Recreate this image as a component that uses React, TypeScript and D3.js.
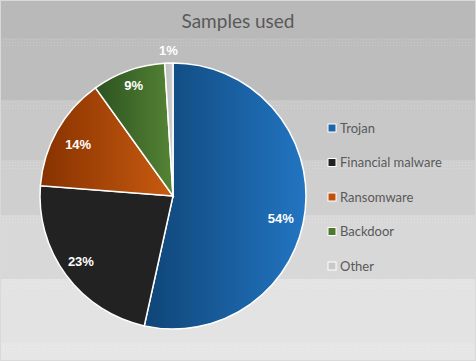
import React from "react";
import * as d3 from "d3";

const categories = ["Trojan", "Financial malware", "Ransomware", "Backdoor", "Other"];
const values = [54, 23, 14, 9, 1];
const labels = ["54%", "23%", "14%", "9%", "1%"];
const gradStops: [string, string][] = [
  ["#0f4577", "#2275c2"],
  ["#222222", "#222222"],
  ["#873200", "#c85b10"],
  ["#2c5220", "#558435"],
  ["#bdbdbd", "#cfcfcf"],
];
const legendColors = ["#1f65a8", "#222222", "#c0500a", "#4b7a2c", "#c8c8c8"];
const bandEdges = [0, 38, 100, 160, 215, 279, 343, 361];
const bandColors = ["#b9b9b9", "#bdbdbd", "#c8c8c8", "#cfcfcf", "#d8d8d8", "#e3e3e3", "#e6e6e6"];

export default function App() {
  const W = 476, H = 361;
  const cx = 173, cy = 196, R = 133;
  const pie = d3.pie<number>().sort(null).value((d) => d)(values);
  const arc = d3.arc<d3.PieArcDatum<number>>().innerRadius(0).outerRadius(R);
  const legendY = d3.scalePoint<string>().domain(categories).range([128, 266]);
  // label placement: radius and angular nudge (radians) per slice, like Excel's best fit
  const labelR = [110, 113, 108, 117, 146];
  const labelShift = [0.095, 0.02, -0.015, 0, 0];

  return (
    <svg width={W} height={H} style={{ display: "block" }}>
      <style>{`body{margin:0}`}</style>
      <defs>
        {gradStops.map((g, i) => (
          <linearGradient id={`g${i}`} key={i} x1="0" y1="0" x2="1" y2="0">
            <stop offset="0" stopColor={g[0]} />
            <stop offset="1" stopColor={g[1]} />
          </linearGradient>
        ))}
        <pattern id="dots" width="3" height="3" patternUnits="userSpaceOnUse">
          <rect x={0} y={0} width={1} height={1} fill="#ffffff" fillOpacity={0.2} />
        </pattern>
      </defs>
      {bandColors.map((c, i) => (
        <rect key={i} x={0} y={bandEdges[i]} width={W} height={bandEdges[i + 1] - bandEdges[i]} fill={c} />
      ))}
      {bandEdges.slice(1, -1).map((e, i) => (
        <rect key={`d${i}`} x={2} y={e} width={W - 4} height={10} fill="url(#dots)" />
      ))}
      <rect x={0.5} y={0.5} width={W - 1} height={H - 1} fill="none" stroke="#d9d9d9" />
      <text x={238} y={20} textAnchor="middle" dominantBaseline="central" fontFamily="Lato, 'Open Sans', sans-serif" fontSize={19} fill="#595959">
        Samples used
      </text>
      <g transform={`translate(${cx},${cy})`}>
        {pie.map((p, i) => (
          <path key={i} d={arc(p) || ""} fill={`url(#g${i})`} stroke="#ffffff" strokeWidth={1.5} />
        ))}
        {pie.map((p, i) => {
          const a = (p.startAngle + p.endAngle) / 2 + labelShift[i];
          const x = labelR[i] * Math.sin(a);
          const y = -labelR[i] * Math.cos(a);
          return (
            <text key={i} x={x} y={y} dy="0.35em" textAnchor="middle" fontFamily="'Liberation Sans', Arial, sans-serif" fontWeight="bold" fontSize={13} fill="#ffffff">
              {labels[i]}
            </text>
          );
        })}
      </g>
      {categories.map((c, i) => (
        <g key={c} transform={`translate(328,${legendY(c)})`}>
          <rect x={0} y={-4} width={8} height={8} fill={legendColors[i]} stroke="#ffffff" strokeWidth={1} />
          <text x={12} y={0} dy="0.35em" fontFamily="Lato, 'Open Sans', sans-serif" fontSize={13} fill="#595959">
            {c}
          </text>
        </g>
      ))}
    </svg>
  );
}
